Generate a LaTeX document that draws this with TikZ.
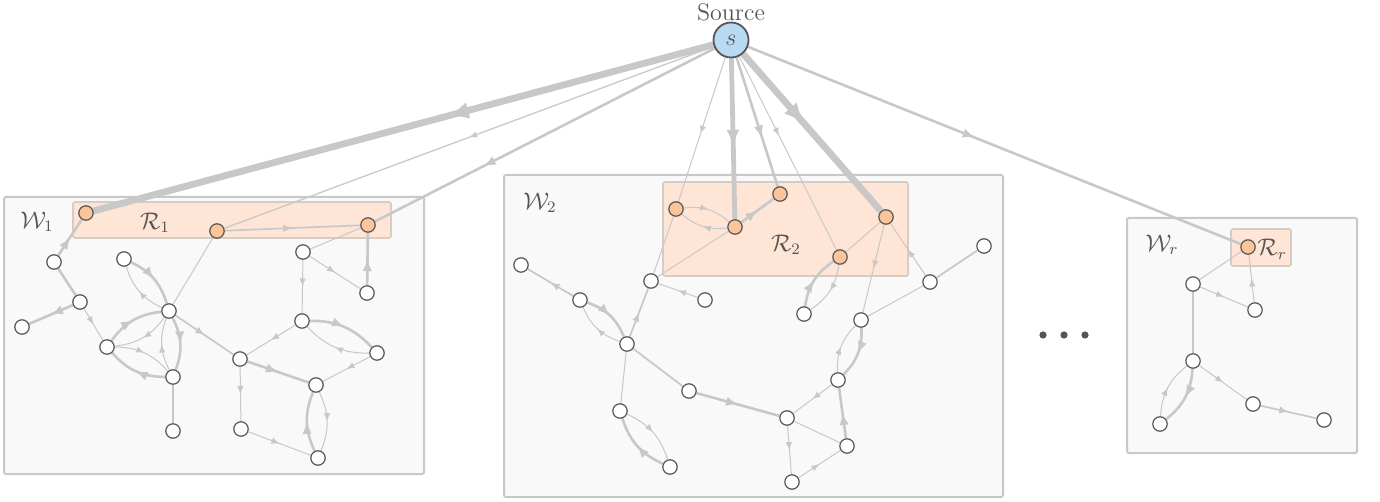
\documentclass[tikz,border=0pt]{standalone}
\usetikzlibrary{arrows.meta,decorations.markings}

\definecolor{edgec}{RGB}{200,200,200}
\definecolor{ink}{RGB}{85,85,85}
\definecolor{boxfill}{RGB}{249,249,249}
\definecolor{boxline}{RGB}{200,200,200}
\definecolor{regfill}{RGB}{254,229,214}
\definecolor{regline}{RGB}{214,204,198}
\definecolor{orangenode}{RGB}{251,196,154}
\definecolor{srcfill}{RGB}{185,218,243}

\pgfdeclarelayer{boxes}
\pgfdeclarelayer{edges}
\pgfsetlayers{boxes,edges,main}

\tikzset{
  vtx/.style={circle,draw=ink,fill=white,line width=0.6pt,minimum size=7.2pt,inner sep=0pt},
  rvtx/.style={vtx,fill=orangenode},
  src/.style={circle,draw=ink,fill=srcfill,line width=0.9pt,minimum size=17.5pt,inner sep=0pt,text=ink,font=\large},
  lbl/.style={text=ink,font=\large,inner sep=1pt},
  dotn/.style={circle,fill=ink,minimum size=3.6pt,inner sep=0pt},
  wbox/.style={draw=boxline,fill=boxfill,line width=1pt,rounded corners=1pt},
  rbox/.style={draw=regline,fill=regfill,line width=0.8pt,rounded corners=1pt},
  lnk/.style={draw,color=edgec,line cap=butt},
  thn/.style={lnk,line width=0.5pt},
  thn2/.style={lnk,line width=0.65pt},
  mid/.style={lnk,line width=0.85pt},
  thk/.style={lnk,line width=1.3pt},
  hvy/.style={lnk,line width=2.4pt},
  xhvy/.style={lnk,line width=3.4pt},
  a1/.style={postaction={decorate,decoration={markings,mark=at position #1 with {\arrow{Latex[length=4pt,width=3.2pt]}}}}},
  a1/.default=0.5,
  a2/.style={postaction={decorate,decoration={markings,mark=at position #1 with {\arrow{Latex[length=4.6pt,width=3.7pt]}}}}},
  a2/.default=0.5,
  a3/.style={postaction={decorate,decoration={markings,mark=at position #1 with {\arrow{Latex[length=6pt,width=4.8pt]}}}}},
  a3/.default=0.5,
  a4/.style={postaction={decorate,decoration={markings,mark=at position #1 with {\arrow{Latex[length=8.5pt,width=6.5pt]}}}}},
  a4/.default=0.5,
  a5/.style={postaction={decorate,decoration={markings,mark=at position #1 with {\arrow{Latex[length=11pt,width=8.5pt]}}}}},
  a5/.default=0.5,
  bl/.style={bend left=24},
}

\begin{document}
\begin{tikzpicture}[x=0.5pt,y=-0.5pt]
\useasboundingbox (0,0) rectangle (1380,502);

% ---------- source ----------
\node[src] (s) at (731,40) {$s$};
\node[lbl] (srclab) at (731,12) {Source};

% ---------- component W1 ----------
\node[lbl] (w1lab) at (37,222) {$\mathcal{W}_1$};
\node[lbl] (r1lab) at (155,223) {$\mathcal{R}_1$};
\node[rvtx] (r1a) at (86,213) {};
\node[rvtx] (r1b) at (217,231) {};
\node[rvtx] (r1c) at (368,225) {};
\node[vtx] (a) at (54,262) {};
\node[vtx] (b) at (124,259) {};
\node[vtx] (c) at (80,302) {};
\node[vtx] (d) at (22,327) {};
\node[vtx] (e) at (169,311) {};
\node[vtx] (f) at (107,347) {};
\node[vtx] (g) at (173,377) {};
\node[vtx] (h) at (173,431) {};
\node[vtx] (i) at (303,252) {};
\node[vtx] (j) at (367,293) {};
\node[vtx] (k) at (302,321) {};
\node[vtx] (l) at (377,353) {};
\node[vtx] (m) at (240,359) {};
\node[vtx] (n) at (316,385) {};
\node[vtx] (o) at (241,429) {};
\node[vtx] (p) at (318,458) {};

% ---------- component W2 ----------
\node[lbl] (w2lab) at (540,203) {$\mathcal{W}_2$};
\node[lbl] (r2lab) at (786,245) {$\mathcal{R}_2$};
\node[rvtx] (q1) at (676,209) {};
\node[rvtx] (q2) at (735,227) {};
\node[rvtx] (q3) at (780,194) {};
\node[rvtx] (q4) at (886,217) {};
\node[rvtx] (q5) at (840,257) {};
\node[vtx] (A) at (521,265) {};
\node[vtx] (B) at (580,300) {};
\node[vtx] (C) at (651,281) {};
\node[vtx] (D) at (705,300) {};
\node[vtx] (E) at (627,344) {};
\node[vtx] (F) at (689,391) {};
\node[vtx] (G) at (620,411) {};
\node[vtx] (H) at (670,467) {};
\node[vtx] (I) at (804,314) {};
\node[vtx] (J) at (861,320) {};
\node[vtx] (K) at (930,282) {};
\node[vtx] (L) at (984,246) {};
\node[vtx] (M) at (838,380) {};
\node[vtx] (N) at (787,418) {};
\node[vtx] (O) at (847,446) {};
\node[vtx] (P) at (792,482) {};

% ---------- component Wr ----------
\node[lbl] (wrlab) at (1162,245) {$\mathcal{W}_r$};
\node[lbl,anchor=west,inner sep=0pt] (rrlab) at (1257,249) {$\mathcal{R}_r$};
\node[rvtx] (t0) at (1248,247) {};
\node[vtx] (t1) at (1193,284) {};
\node[vtx] (t2) at (1255,310) {};
\node[vtx] (t3) at (1193,361) {};
\node[vtx] (t4) at (1160,424) {};
\node[vtx] (t5) at (1253,404) {};
\node[vtx] (t6) at (1324,420) {};

% ellipsis between components
\node[dotn] (dot1) at (1043,335) {};
\node[dotn] (dot2) at (1064,335) {};
\node[dotn] (dot3) at (1085,335) {};

% ---------- boxes ----------
\begin{pgfonlayer}{boxes}
  \draw[wbox] (4,197) rectangle (424,474);
  \draw[rbox] (73,202) rectangle (391,238);
  \draw[wbox] (504,175) rectangle (1003,497);
  \draw[rbox] (663,182) rectangle (908,276);
  \draw[wbox] (1127,218) rectangle (1357,453);
  \draw[rbox] (1231,229) rectangle (1291,266);
\end{pgfonlayer}

% ---------- edges ----------
\begin{pgfonlayer}{edges}
  % from the source
  \draw[xhvy,a5=0.43] (s) -- (r1a);
  \draw[thn2,a1=0.5] (s) -- (r1b);
  \draw[thk,a3=0.68] (s) -- (r1c);
  \draw[thn,a1=0.53] (s) -- (q1);
  \draw[hvy,a4=0.55] (s) -- (q2);
  \draw[thk,a3=0.62] (s) -- (q3);
  \draw[thn,a1=0.41] (s) -- (q5);
  \draw[xhvy,a5=0.45] (s) -- (q4);
  \draw[thk,a3=0.46] (s) -- (t0);

  % inside W1
  \draw[thk,a3] (a) -- (r1a);
  \draw[thk] (c) -- (a);
  \draw[thk,a3] (c) -- (d);
  \draw[thn,a1] (c) -- (f);
  \draw[thk,a3] (b) to[bl] (e);
  \draw[thn,a1] (e) to[bl] (b);
  \draw[thk,a3] (f) to[bl] (e);
  \draw[thn,a1] (e) to[bl] (f);
  \draw[thn,a1] (f) to[bl] (g);
  \draw[thk,a3] (g) to[bl] (f);
  \draw[thk,a3] (e) to[bl] (g);
  \draw[thn,a1] (g) to[bl] (e);
  \draw[mid] (g) -- (h);
  \draw[thn] (e) -- (r1b);
  \draw[mid,a2] (e) -- (m);
  \draw[mid,a2] (r1b) -- (r1c);
  \draw[thn] (i) -- (r1c);
  \draw[thn,a1] (i) -- (j);
  \draw[thk,a3] (j) -- (r1c);
  \draw[thn,a1] (i) -- (k);
  \draw[thn,a1] (k) -- (m);
  \draw[thk,a3] (k) to[bl] (l);
  \draw[thn,a1] (l) to[bl] (k);
  \draw[thn,a1] (l) -- (n);
  \draw[thk,a3] (m) -- (n);
  \draw[thn,a1] (m) -- (o);
  \draw[thn,a1] (o) -- (p);
  \draw[thk,a3] (p) to[bl] (n);
  \draw[thn,a1] (n) to[bl] (p);

  % inside W2
  \draw[thn,a1] (q1) to[bl] (q2);
  \draw[thn,a1] (q2) to[bl] (q1);
  \draw[thk,a3] (q2) -- (q3);
  \draw[thn] (q2) -- (C);
  \draw[thn] (q1) -- (C);
  \draw[mid,a2] (E) -- (C);
  \draw[thn,a1] (D) -- (C);
  \draw[thk,a3] (B) to[bl] (E);
  \draw[thn,a1] (E) to[bl] (B);
  \draw[mid,a2] (B) -- (A);
  \draw[thn] (E) -- (G);
  \draw[mid] (E) -- (F);
  \draw[thk,a3] (F) -- (N);
  \draw[thn,a1] (G) to[bl] (H);
  \draw[thk,a3] (H) to[bl] (G);
  \draw[thk,a3] (I) to[bl] (q5);
  \draw[thn,a1] (q5) to[bl] (I);
  \draw[thn] (q4) -- (q5);
  \draw[thn,a1] (q4) -- (J);
  \draw[thn,a1] (K) -- (q4);
  \draw[thn] (J) -- (K);
  \draw[mid] (K) -- (L);
  \draw[thk,a3] (J) to[bl] (M);
  \draw[thn,a1] (M) to[bl] (J);
  \draw[thn,a1] (M) -- (N);
  \draw[thn] (N) -- (O);
  \draw[thk,a3] (O) -- (M);
  \draw[thn,a1] (N) -- (P);
  \draw[thn,a1] (P) -- (O);

  % inside Wr
  \draw[thn] (t1) -- (t0);
  \draw[thn,a1] (t1) -- (t2);
  \draw[thn,a1] (t2) -- (t0);
  \draw[mid] (t1) -- (t3);
  \draw[thn,a1] (t3) -- (t5);
  \draw[mid,a2] (t5) -- (t6);
  \draw[thn,a1] (t4) to[bl] (t3);
  \draw[thk,a3] (t3) to[bl] (t4);
\end{pgfonlayer}
\end{tikzpicture}
\end{document}
